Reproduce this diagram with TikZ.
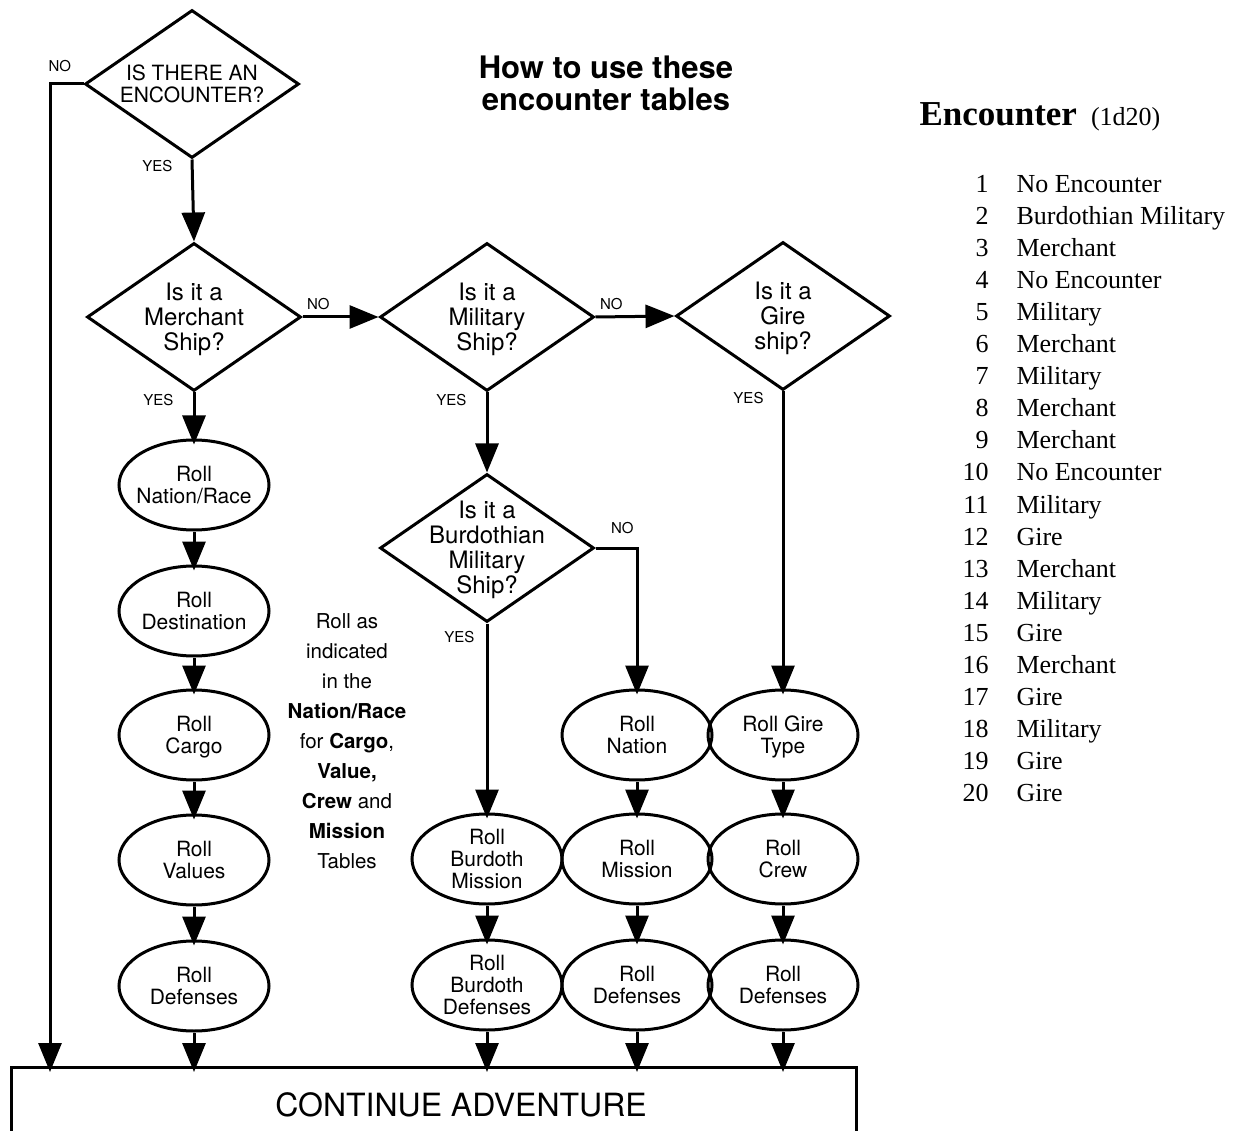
\documentclass[tikz,border=0pt]{standalone}
\usepackage{fontspec}
\setmainfont{TeX Gyre Heros}
\newfontfamily\tabfont{Liberation Serif}
\usetikzlibrary{shapes.geometric,arrows.meta}

% text in a box of no size, so that it does not change the shape round it
\newcommand{\ml}[1]{\smash{\makebox[0pt]{\raisebox{-0.4em}{\begin{tabular}{@{}c@{}}#1\end{tabular}}}}}

\begin{document}
\begin{tikzpicture}[x=1pt,y=-1pt,line width=3pt,
	ask/.style={draw,diamond,inner sep=0pt,minimum width=214pt,minimum height=148pt,font={\fontsize{24}{24.5}\selectfont}},
	roll/.style={draw,ellipse,inner sep=0pt,minimum width=150pt,minimum height=90pt,font={\fontsize{21}{21.5}\selectfont}},
	arr/.style={-{Triangle[length=29pt,width=23pt]}},
	into/.style={arr,shorten >=-6pt},
	yn/.style={inner sep=0pt,font={\fontsize{15}{16}\selectfont}},
	num/.style={anchor=base east,inner sep=0pt,font={\tabfont\fontsize{26}{30}\selectfont}},
	item/.style={anchor=base west,inner sep=0pt,font={\tabfont\fontsize{26}{30}\selectfont}}]
			\useasboundingbox (0,0) rectangle (1240,1131);
			\clip (0,0) rectangle (1240,1131);

			% questions
			\node[ask,font={\fontsize{21}{21}\selectfont}] (enc) at (192,84) {\ml{IS THERE AN\\ENCOUNTER?}};
			\node[ask] (merch) at (194,317) {\ml{Is it a\\Merchant\\Ship?}};
			\node[ask] (mil) at (487,317) {\ml{Is it a\\Military\\Ship?}};
			\node[ask] (gire) at (783,316) {\ml{Is it a\\Gire\\ship?}};
			\node[ask] (burd) at (487,548) {\ml{Is it a\\Burdothian\\Military\\Ship?}};

			% rolls
			\node[roll] (natrace) at (194,485) {\ml{Roll\\Nation/Race}};
			\node[roll] (dest) at (194,611) {\ml{Roll\\Destination}};
			\node[roll] (cargo) at (194,735) {\ml{Roll\\Cargo}};
			\node[roll] (values) at (194,860) {\ml{Roll\\Values}};
			\node[roll] (defA) at (194,986) {\ml{Roll\\Defenses}};

			\node[roll] (burdmis) at (487,859) {\ml{Roll\\Burdoth\\Mission}};
			\node[roll] (burddef) at (487,985) {\ml{Roll\\Burdoth\\Defenses}};

			\node[roll] (nation) at (637,735) {\ml{Roll\\Nation}};
			\node[roll] (mission) at (637,859) {\ml{Roll\\Mission}};
			\node[roll] (defB) at (637,985) {\ml{Roll\\Defenses}};

			\node[roll] (giretype) at (783,735) {\ml{Roll Gire\\Type}};
			\node[roll] (crew) at (783,859) {\ml{Roll\\Crew}};
			\node[roll] (defC) at (783,985) {\ml{Roll\\Defenses}};

			\node[draw,anchor=north west,inner sep=0pt,minimum width=845pt,minimum height=100pt] (cont) at (10,1066) {};
			\node[anchor=base,font={\fontsize{32}{34}\selectfont}] (conttext) at (461,1116) {CONTINUE ADVENTURE};
			\coordinate (nobend) at (50,84);

			% texts
			\node[inner sep=0pt,font={\fontsize{31}{30}\selectfont\bfseries}] (title) at (606,81.5) {\ml{How to use these\\encounter tables}};
			\node[inner sep=0pt,font={\fontsize{20.5}{30}\selectfont}] (note) at (347,739) {\ml{Roll as\\indicated\\in the\\\textbf{Nation/Race}\\for \textbf{Cargo},\\\textbf{Value,}\\\textbf{Crew} and\\\textbf{Mission}\\Tables}};

			% connectors
			\draw[into] (enc.west) -- node[yn,at start,anchor=south east,xshift=-11pt,yshift=11pt] {NO} (nobend) -- (nobend |- cont.north);
			\draw[arr] (enc.south) -- node[yn,at start,anchor=north east,xshift=-18pt,yshift=1pt] {YES} (merch.north);
			\draw[arr] (merch.east) -- node[yn,at start,anchor=south west,xshift=3pt,yshift=6pt] {NO} (mil.west);
			\draw[arr] (mil.east) -- node[yn,at start,anchor=south west,xshift=3pt,yshift=6pt] {NO} (gire.west);
			\draw[into] (merch.south) -- node[yn,at start,anchor=north east,xshift=-19pt] {YES} (natrace.north);
			\draw[arr] (mil.south) -- node[yn,at start,anchor=north east,xshift=-19pt] {YES} (burd.north);
			\draw[into] (gire.south) -- node[yn,at start,anchor=north east,xshift=-18pt,yshift=1pt] {YES} (giretype.north);
			\draw[into] (burd.south) -- node[yn,at start,anchor=north east,xshift=-11pt,yshift=-6pt] {YES} (burdmis.north);
			\draw[into] (burd.east) -- node[yn,at end,anchor=south east,xshift=-2pt,yshift=13pt] {NO} (burd.east -| nation.north) -- (nation.north);

			\foreach \a/\b in {natrace/dest,dest/cargo,cargo/values,values/defA,burdmis/burddef,nation/mission,mission/defB,giretype/crew,crew/defC}
				\draw[into] (\a) -- (\b);
			\foreach \a in {defA,burddef,defB,defC}
				\draw[into] (\a) -- (\a |- cont.north);

			% table
			\node[anchor=base west,inner sep=0pt,font={\tabfont\fontsize{35}{40}\selectfont\bfseries}] (enchead) at (918,126) {Encounter\hspace{14pt}{\fontsize{26}{30}\selectfont\mdseries(1d20)}};
			\foreach \n/\t in {1/No Encounter,2/Burdothian Military,3/Merchant,4/No Encounter,5/Military,6/Merchant,7/Military,8/Merchant,9/Merchant,10/No Encounter,11/Military,12/Gire,13/Merchant,14/Military,15/Gire,16/Merchant,17/Gire,18/Military,19/Gire,20/Gire}{
				\node[num] (n\n) at (990,{161+32*\n}) {\n};
				\node[item] (t\n) at (1015,{161+32*\n}) {\t};
			}
		\end{tikzpicture}
\end{document}
